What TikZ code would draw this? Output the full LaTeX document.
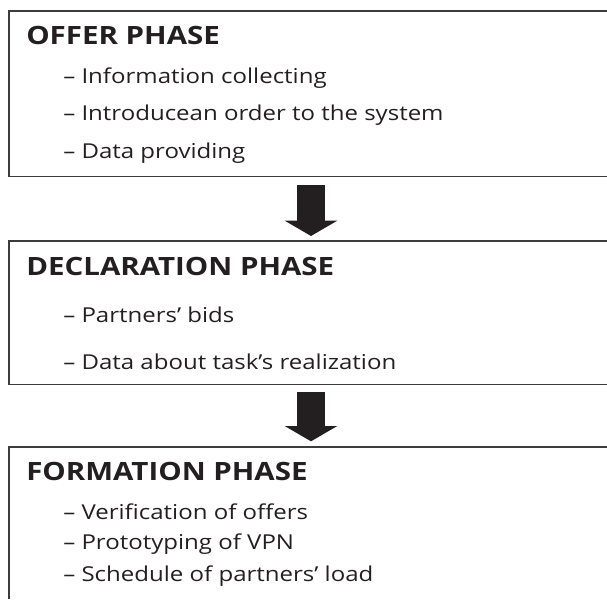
\documentclass[tikz,border=0pt]{standalone}
\usepackage{fontspec}
\setmainfont{Open Sans}[FakeStretch=1.17]
\usetikzlibrary{positioning,arrows.meta}

\begin{document}
\begin{tikzpicture}[x=0.75pt,y=-0.75pt,
  phaseBox/.style={inner sep=0pt,anchor=north west,minimum width=520pt},
  boxLine/.style={draw=boxColor,line width=0.9pt},
  phaseHead/.style={anchor=base west,inner sep=0pt,text=txtColor,font=\fontsize{18.9}{22}\selectfont\bfseries},
  phaseItem/.style={anchor=base west,inner sep=0pt,text=txtColor,font=\fontsize{15.4}{18}\selectfont},
  downArrow/.style={line width=21pt,color=txtColor,-{Triangle[width=39pt,length=11.5pt]}}]
\definecolor{txtColor}{RGB}{35,31,32}
\definecolor{boxColor}{RGB}{60,60,60}
\useasboundingbox (0,0) rectangle (607,606);
\clip (0,0) rectangle (607,598);
\coordinate (mid) at (311,0);
% offer phase
\node[phaseBox,minimum height=123.75pt] (offer) at (9,11) {};
\node[phaseHead] (offerHead) at (26,45) {OFFER PHASE};
\node[phaseItem] (offerA) at (63,84) {-- Information collecting};
\node[phaseItem] (offerB) at (63,121) {-- Introducean order to the system};
\node[phaseItem] (offerC) at (63,158.5) {-- Data providing};
% declaration phase
\node[phaseBox,minimum height=107.25pt] (decl) at (9,241) {};
\node[phaseHead] (declHead) at (26,275) {DECLARATION PHASE};
\node[phaseItem] (declA) at (63,322) {-- Partners' bids};
\node[phaseItem] (declB) at (63,369) {-- Data about task's realization};
% formation phase
\node[phaseBox,minimum height=150pt] (form) at (9,447) {};
\node[phaseHead] (formHead) at (26,480) {FORMATION PHASE};
\node[phaseItem] (formA) at (63,519) {-- Verification of offers};
\node[phaseItem] (formB) at (63,549.5) {-- Prototyping of VPN};
\node[phaseItem] (formC) at (63,581) {-- Schedule of partners' load};
% box frames, open to the right
\draw[boxLine] (offer.north east) -- (offer.north west) -- (offer.south west) -- (offer.south east);
\draw[boxLine] (decl.north east) -- (decl.north west) -- (decl.south west) -- (decl.south east);
\draw[boxLine] (form.north east) -- (form.north west) -- (form.south west);
% arrows
\draw[downArrow] ([yshift=-6.5pt]offer.south -| mid) -- ([yshift=3.75pt]decl.north -| mid);
\draw[downArrow] ([yshift=-5.5pt]decl.south -| mid) -- ([yshift=4.25pt]form.north -| mid);
\end{tikzpicture}
\end{document}
